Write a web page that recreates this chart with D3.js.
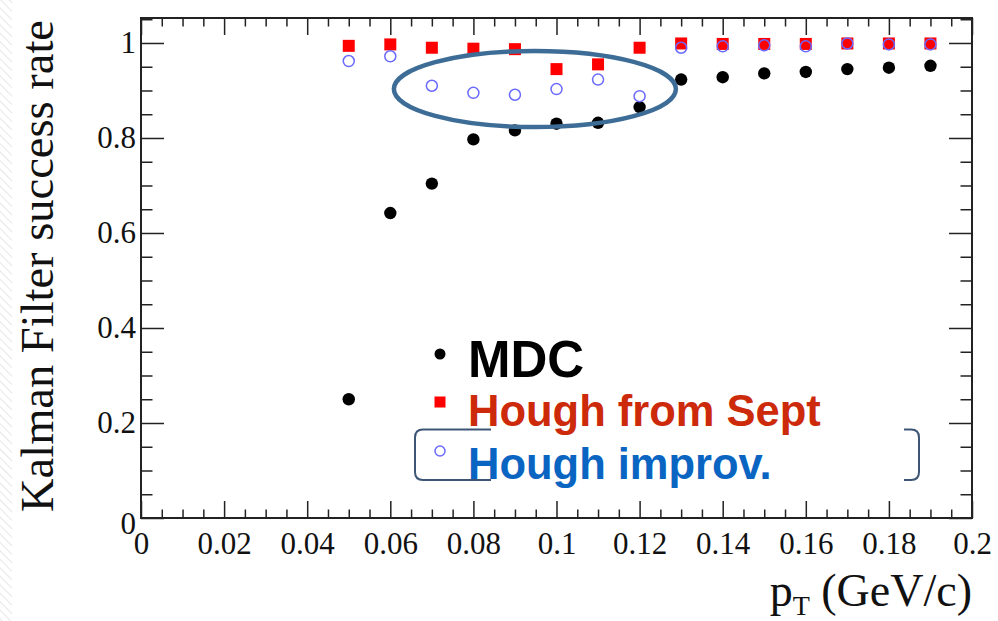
<!DOCTYPE html>
<html>
<head>
<meta charset="utf-8">
<script src="https://cdn.jsdelivr.net/npm/d3@7"></script>
<style>
  html, body { margin: 0; padding: 0; background: #fff; }
  svg { display: block; }
</style>
</head>
<body>
<svg id="chart" width="998" height="621"></svg>
<script>
// Transverse momentum bins (GeV/c)
const pt = [0.05, 0.06, 0.07, 0.08, 0.09, 0.10, 0.11, 0.12, 0.13, 0.14, 0.15, 0.16, 0.17, 0.18, 0.19];
// Kalman filter success rate per bin, one array per track seeding
const mdc         = [0.250, 0.642, 0.704, 0.797, 0.816, 0.830, 0.832, 0.865, 0.923, 0.928, 0.936, 0.939, 0.945, 0.948, 0.952];
const houghSept   = [0.994, 0.997, 0.990, 0.988, 0.987, 0.945, 0.955, 0.990, 0.999, 0.998, 0.998, 0.998, 0.999, 0.999, 0.999];
const houghImprov = [0.962, 0.972, 0.910, 0.895, 0.891, 0.903, 0.923, 0.888, 0.990, 0.993, 0.995, 0.993, 0.999, 0.997, 0.997];
// Axis ticks
const xMajor = [0, 0.02, 0.04, 0.06, 0.08, 0.1, 0.12, 0.14, 0.16, 0.18, 0.2];
const xLabels = ["0", "0.02", "0.04", "0.06", "0.08", "0.1", "0.12", "0.14", "0.16", "0.18", "0.2"];
const yMajor = [0, 0.2, 0.4, 0.6, 0.8, 1];
const yLabels = ["0", "0.2", "0.4", "0.6", "0.8", "1"];
// Legend entries
const legendNames = ["MDC", "Hough from Sept", "Hough improv."];

const svg = d3.select("#chart");
const L = 141, R = 972, T = 18, B = 518;

const x = d3.scaleLinear().domain([0, 0.2]).range([L, R]);
const y = d3.scaleLinear().domain([0, 1.0526]).range([B, T]);

// Faint hatched strip along the left edge
const defs = svg.append("defs");
const pat = defs.append("pattern")
  .attr("id", "hatch").attr("patternUnits", "userSpaceOnUse")
  .attr("width", 6).attr("height", 6)
  .attr("patternTransform", "rotate(-45)");
pat.append("line").attr("x1", 0).attr("y1", 0).attr("x2", 0).attr("y2", 6)
  .attr("stroke", "#e6e6e6").attr("stroke-width", 2);
svg.append("rect").attr("x", 0).attr("y", 0).attr("width", 12).attr("height", 621)
  .attr("fill", "url(#hatch)");

const xMinor = d3.range(0, 41).map(i => i * 0.005).filter(v => !xMajor.some(m => Math.abs(m - v) < 1e-9));
const yMinor = d3.range(0, 22).map(i => i * 0.05).filter(v => v <= 1.0526 && !yMajor.some(m => Math.abs(m - v) < 1e-9));

function styleAxis(g) {
  g.select(".domain").remove();
  g.selectAll(".tick line").attr("stroke", "#222").attr("stroke-width", 1.5);
  g.selectAll("text").attr("font-family", "'Liberation Serif', 'Times New Roman', serif")
    .attr("font-size", 31).attr("fill", "#111");
}

// Bottom axis (ticks point into the frame)
svg.append("g").attr("transform", `translate(0,${B})`)
  .call(d3.axisBottom(x).tickValues(xMajor).tickSize(-17).tickPadding(14)
    .tickFormat((d, i) => xLabels[i]))
  .call(styleAxis);
svg.append("g").attr("transform", `translate(0,${B})`)
  .call(d3.axisBottom(x).tickValues(xMinor).tickSize(-8.5).tickFormat(""))
  .call(styleAxis);
// Top axis
svg.append("g").attr("transform", `translate(0,${T})`)
  .call(d3.axisTop(x).tickValues(xMajor).tickSize(-17).tickFormat(""))
  .call(styleAxis);
svg.append("g").attr("transform", `translate(0,${T})`)
  .call(d3.axisTop(x).tickValues(xMinor).tickSize(-8.5).tickFormat(""))
  .call(styleAxis);
// Left axis
const yAx = svg.append("g").attr("transform", `translate(${L},0)`)
  .call(d3.axisLeft(y).tickValues(yMajor).tickSize(-23).tickPadding(5)
    .tickFormat((d, i) => yLabels[i]))
  .call(styleAxis);
yAx.selectAll(".tick text").filter(d => d === 0).attr("dy", "0.5em");
svg.append("g").attr("transform", `translate(${L},0)`)
  .call(d3.axisLeft(y).tickValues(yMinor).tickSize(-11.5).tickFormat(""))
  .call(styleAxis);
// Right axis
svg.append("g").attr("transform", `translate(${R},0)`)
  .call(d3.axisRight(y).tickValues(yMajor).tickSize(-23).tickFormat(""))
  .call(styleAxis);
svg.append("g").attr("transform", `translate(${R},0)`)
  .call(d3.axisRight(y).tickValues(yMinor).tickSize(-11.5).tickFormat(""))
  .call(styleAxis);

// Frame
svg.append("rect").attr("x", L).attr("y", T).attr("width", R - L).attr("height", B - T)
  .attr("fill", "none").attr("stroke", "#222").attr("stroke-width", 2);

// Axis titles
svg.append("text")
  .attr("transform", `translate(53,${(T + B) / 2 - 2}) rotate(-90)`)
  .attr("text-anchor", "middle")
  .attr("font-family", "'Liberation Serif', 'Times New Roman', serif")
  .attr("font-size", 46.5).attr("fill", "#111")
  .text("Kalman Filter success rate");

const xt = svg.append("text")
  .attr("x", R).attr("y", 606).attr("text-anchor", "end")
  .attr("font-family", "'Liberation Serif', 'Times New Roman', serif")
  .attr("font-size", 46).attr("fill", "#111");
xt.append("tspan").text("p");
xt.append("tspan").attr("font-size", 28).attr("dy", 9).text("T");
xt.append("tspan").attr("dy", -9).text(" (GeV/c)");

// Data points
const rows = pt.map((p, i) => ({ p, mdc: mdc[i], sept: houghSept[i], imp: houghImprov[i] }));

svg.append("g").selectAll("circle").data(rows).join("circle")
  .attr("cx", d => x(d.p)).attr("cy", d => y(d.mdc)).attr("r", 6.2).attr("fill", "#000");

svg.append("g").selectAll("rect").data(rows).join("rect")
  .attr("x", d => x(d.p) - 6).attr("y", d => y(d.sept) - 6)
  .attr("width", 12).attr("height", 12).attr("fill", "#ff0000");

svg.append("g").selectAll("circle").data(rows).join("circle")
  .attr("cx", d => x(d.p)).attr("cy", d => y(d.imp)).attr("r", 5.5)
  .attr("fill", "none").attr("stroke", "#6a6aff").attr("stroke-width", 1.5);

// Highlight around the low-pT Hough improvement region
svg.append("ellipse")
  .attr("cx", x(0.0948)).attr("cy", y(0.903))
  .attr("rx", 141).attr("ry", 38)
  .attr("fill", "none").attr("stroke", "#3d6d96").attr("stroke-width", 4.5);

// Legend
const lx = 440;
const legY = [354, 402, 451];
const lg = svg.append("g");
lg.append("circle").attr("cx", lx).attr("cy", legY[0]).attr("r", 5.5).attr("fill", "#000");
lg.append("rect").attr("x", lx - 5.5).attr("y", legY[1] - 5.5).attr("width", 11).attr("height", 11).attr("fill", "#ff0000");
lg.append("circle").attr("cx", lx).attr("cy", legY[2]).attr("r", 5).attr("fill", "none")
  .attr("stroke", "#6a6aff").attr("stroke-width", 1.5);

const legFont = "'Liberation Sans', Arial, Helvetica, sans-serif";
lg.append("text").attr("x", 468).attr("y", 377).attr("font-family", legFont)
  .attr("font-weight", "bold").attr("font-size", 51).attr("fill", "#000").text(legendNames[0]);
lg.append("text").attr("x", 468).attr("y", 426).attr("font-family", legFont)
  .attr("font-weight", "bold").attr("font-size", 43.5).attr("fill", "#cc2a0a").text(legendNames[1]);
lg.append("text").attr("x", 468).attr("y", 479).attr("font-family", legFont)
  .attr("font-weight", "bold").attr("font-size", 43.5).attr("fill", "#0a64c2").text(legendNames[2]);

// Bracket around the last legend entry
const br = 8, bxl = 415, bxr = 919, byt = 429.5, byb = 480;
lg.append("path")
  .attr("d", `M491,${byt} H${bxl + br} Q${bxl},${byt} ${bxl},${byt + br} V${byb - br} Q${bxl},${byb} ${bxl + br},${byb} H491`)
  .attr("fill", "none").attr("stroke", "#3e5676").attr("stroke-width", 2);
lg.append("path")
  .attr("d", `M904,${byt} H${bxr - br} Q${bxr},${byt} ${bxr},${byt + br} V${byb - br} Q${bxr},${byb} ${bxr - br},${byb} H904`)
  .attr("fill", "none").attr("stroke", "#3e5676").attr("stroke-width", 2);
</script>
</body>
</html>
